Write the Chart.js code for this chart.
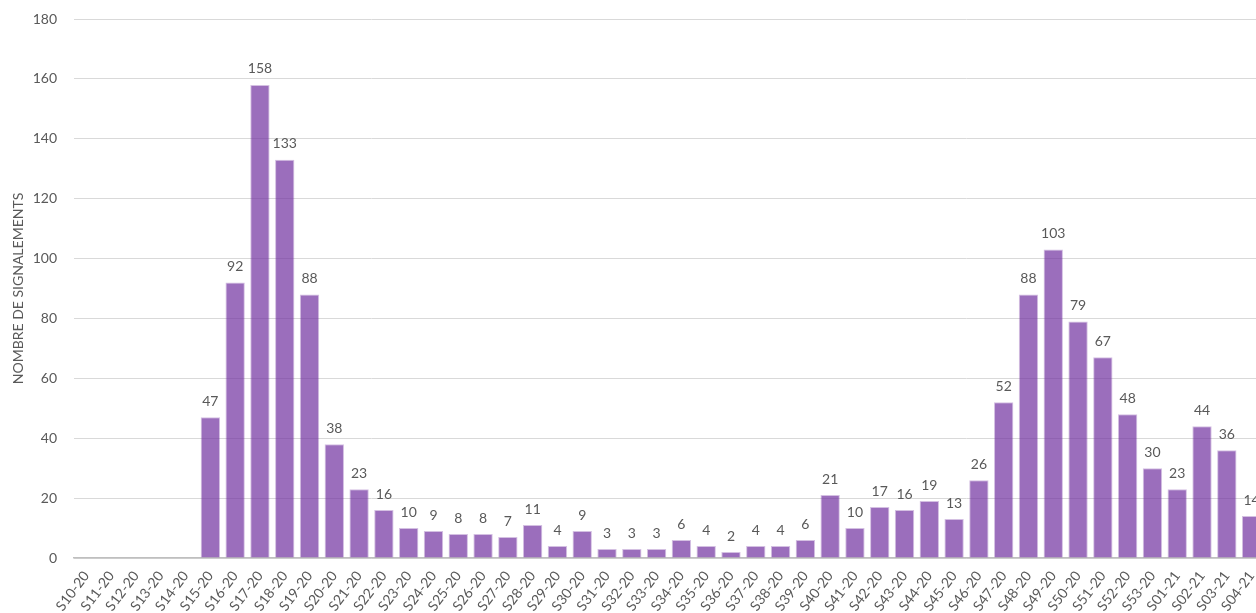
<!DOCTYPE html>
<html>
<head>
<meta charset="utf-8">
<script src="https://cdn.jsdelivr.net/npm/chart.js@4/dist/chart.umd.min.js"></script>
<style>
  body { margin: 0; overflow: hidden; background: #fff; }
  #wrap { width: 1264px; height: 613px; position: relative; }
</style>
</head>
<body>
<div id="wrap"><canvas id="myChart"></canvas></div>
<script>
const weeks = [
  'S10-20', 'S11-20', 'S12-20', 'S13-20', 'S14-20', 'S15-20', 'S16-20', 'S17-20',
  'S18-20', 'S19-20', 'S20-20', 'S21-20', 'S22-20', 'S23-20', 'S24-20', 'S25-20',
  'S26-20', 'S27-20', 'S28-20', 'S29-20', 'S30-20', 'S31-20', 'S32-20', 'S33-20',
  'S34-20', 'S35-20', 'S36-20', 'S37-20', 'S38-20', 'S39-20', 'S40-20', 'S41-20',
  'S42-20', 'S43-20', 'S44-20', 'S45-20', 'S46-20', 'S47-20', 'S48-20', 'S49-20',
  'S50-20', 'S51-20', 'S52-20', 'S53-20', 'S01-21', 'S02-21', 'S03-21', 'S04-21',
];
const signalements = [
  0, 0, 0, 0, 0, 47, 92, 158,
  133, 88, 38, 23, 16, 10, 9, 8,
  8, 7, 11, 4, 9, 3, 3, 3,
  6, 4, 2, 4, 4, 6, 21, 10,
  17, 16, 19, 13, 26, 52, 88, 103,
  79, 67, 48, 30, 23, 44, 36, 14,
];
const yTicks = [0, 20, 40, 60, 80, 100, 120, 140, 160, 180];

const fontName = 'Lato, "Open Sans", sans-serif';
const grey = '#595959';

// draws the value above each bar, skipping zeros
const barLabels = {
  id: 'barLabels',
  afterDatasetsDraw(chart) {
    const ctx = chart.ctx;
    const meta = chart.getDatasetMeta(0);
    ctx.save();
    ctx.font = '14px ' + fontName;
    ctx.fillStyle = grey;
    ctx.textAlign = 'center';
    ctx.textBaseline = 'bottom';
    meta.data.forEach((bar, i) => {
      const v = signalements[i];
      if (!v) return;
      ctx.fillText(String(v), bar.x, bar.y - 9);
    });
    ctx.restore();
  },
};

const ctx = document.getElementById('myChart').getContext('2d');
const chart = new Chart(ctx, {
  type: 'bar',
  data: {
    labels: weeks,
    datasets: [
      {
        label: 'Signalements',
        data: signalements,
        backgroundColor: 'rgba(112, 48, 160, 0.7)',
        borderColor: 'rgba(112, 48, 160, 0.3)',
        borderWidth: 1,
        categoryPercentage: 1,
        barPercentage: 0.78,
      },
    ],
  },
  options: {
    responsive: true,
    maintainAspectRatio: false,
    animation: false,
    layout: { padding: { top: 19, right: 0, left: 0, bottom: 0 } },
    plugins: {
      legend: { display: false },
      tooltip: { enabled: false },
    },
    scales: {
      x: {
        grid: { display: false, drawTicks: false },
        border: { color: '#bfbfbf', width: 1.5 },
        ticks: {
          color: grey,
          font: { family: fontName, size: 14 },
          minRotation: 53,
          maxRotation: 53,
          autoSkip: false,
          padding: 10,
        },
        afterFit(scale) {
          scale.height = 55;
          scale.paddingLeft = 0;
          scale.paddingRight = 0;
        },
      },
      y: {
        min: 0,
        max: 180,
        afterBuildTicks(scale) { scale.ticks = yTicks.map((v) => ({ value: v })); },
        grid: { color: '#d9d9d9', drawTicks: false },
        border: { display: false },
        ticks: {
          color: grey,
          font: { family: fontName, size: 14 },
          padding: 17,
        },
        title: {
          display: true,
          text: 'NOMBRE DE SIGNALEMENTS',
          color: grey,
          font: { family: fontName, size: 14 },
          padding: { top: 10, bottom: 0 },
        },
        afterFit(scale) {
          scale.width = 74;
          scale.paddingTop = 0;
          scale.paddingBottom = 0;
        },
      },
    },
  },
  plugins: [barLabels],
});
</script>
</body>
</html>
